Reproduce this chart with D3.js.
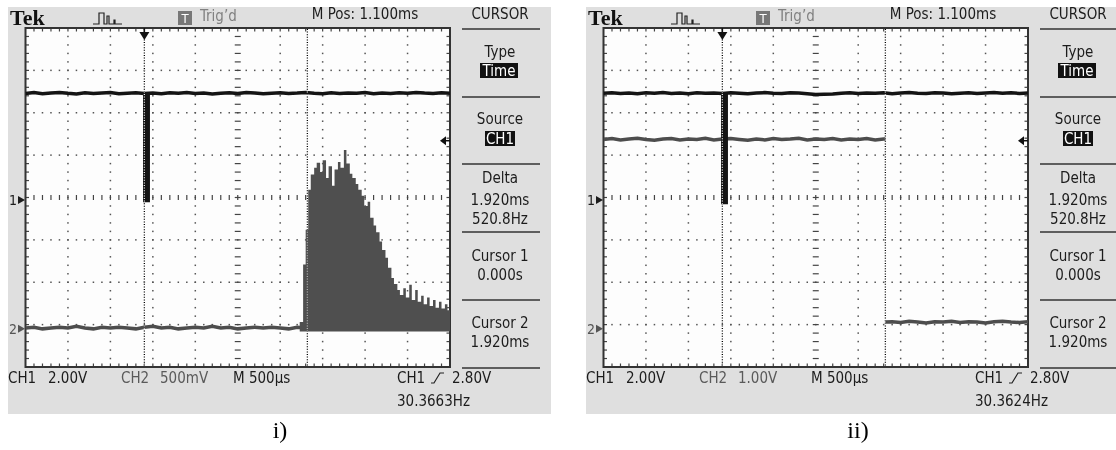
<!DOCTYPE html>
<html>
<head>
<meta charset="utf-8">
<script src="https://cdn.jsdelivr.net/npm/d3@7"></script>
<style>
  body { margin: 0; background: #fff; }
  svg text { font-family: "Liberation Sans Narrow", "DejaVu Sans Condensed", "Arial Narrow", sans-serif; font-size: 15px; fill: #1c1c1c; }
</style>
</head>
<body>
<svg id="chart" width="1116" height="450"></svg>
<script>
// sample times in ms, trigger at 0
const sampleT = [-1.4, -1.3, -1.2, -1.1, -1.0, -0.9, -0.8, -0.7, -0.6, -0.5,
  -0.4, -0.3, -0.2, -0.1, 0, 0.1, 0.2, 0.3, 0.4, 0.5,
  0.6, 0.7, 0.8, 0.9, 1.0, 1.1, 1.2, 1.3, 1.4, 1.5,
  1.6, 1.7, 1.8, 1.9, 2.0, 2.1, 2.2, 2.3, 2.4, 2.5,
  2.6, 2.7, 2.8, 2.9, 3.0, 3.1, 3.2, 3.3, 3.4, 3.5, 3.6]

// CH1 (V) for screen i and ii
const ch1aV = [5.03, 5.07, 5.02, 5.05, 5.08, 5.04, 5.01, 5.06, 5.03, 5.05,
  5.07, 5.02, 5.04, 5.06, 5.03, 5.05, 5.02, 5.06, 5.04, 5.07,
  5.03, 5.05, 5.01, 5.04, 5.06, 5.03, 5.07, 5.05, 5.02, 5.04,
  5.06, 5.03, 5.05, 5.08, 5.04, 5.02, 5.06, 5.03, 5.05, 5.04,
  5.07, 5.02, 5.05, 5.03, 5.06, 5.04, 5.08, 5.05, 5.03, 5.06, 5.04]
const ch1bV = [5.04, 5.06, 5.03, 5.05, 5.02, 5.06, 5.04, 5.07, 5.03, 5.05,
  5.02, 5.06, 5.04, 5.05, 5.03, 5.06, 5.04, 5.02, 5.05, 5.07,
  5.04, 5.03, 5.06, 5.05, 5.02, 4.98, 4.99, 5.00, 5.04, 5.06,
  5.03, 5.05, 5.04, 5.06, 5.02, 5.05, 5.07, 5.04, 5.03, 5.06,
  5.05, 5.02, 5.04, 5.06, 5.03, 5.05, 5.07, 5.04, 5.06, 5.03, 5.05]
// trigger pulse: [t, low, high]
const ch1aDip = [[-0.016, -0.1, 5.04], [0.066, -0.1, 5.04]]
const ch1bDip = [[-0.016, -0.2, 5.04], [0.066, -0.2, 5.04]]

// CH2 screen i: baseline plus burst envelope
const ch2aV = [0.01, 0.02, 0.00, 0.01, 0.02, 0.01, 0.03, 0.01, 0.00, 0.02,
  0.01, 0.02, 0.01, 0.00, 0.02, 0.03, 0.01, 0.02, 0.00, 0.01,
  0.02, 0.01, 0.03, 0.01, 0.02, 0.00, 0.01, 0.02, 0.01, 0.02,
  0.01, 0.00, 0.02, 0.01, 0.02, 0.01, 0.00, 0.02, 0.01, 0.02,
  0.01, 0.02, 0.00, 0.01, 0.02, 0.01, 0.02, 0.00, 0.01, 0.02, 0.01]
const envT = [1.83, 1.87, 1.90, 1.93, 1.96, 2.00, 2.03, 2.07, 2.10, 2.14,
  2.17, 2.21, 2.24, 2.28, 2.31, 2.35, 2.38, 2.42, 2.45, 2.49,
  2.52, 2.56, 2.59, 2.63, 2.66, 2.70, 2.73, 2.77, 2.80, 2.84,
  2.87, 2.91, 2.94, 2.98, 3.01, 3.05, 3.08, 3.12, 3.15, 3.19,
  3.22, 3.26, 3.29, 3.33, 3.36, 3.40, 3.43, 3.47, 3.50, 3.54, 3.57, 3.60]
const envV = [0.08, 0.76, 1.17, 1.64, 1.82, 1.90, 1.96, 1.85, 1.99, 1.78,
  1.92, 1.69, 1.88, 1.97, 1.90, 2.11, 1.95, 1.83, 1.78, 1.71,
  1.64, 1.57, 1.45, 1.50, 1.31, 1.22, 1.14, 1.03, 0.93, 0.84,
  0.72, 0.60, 0.53, 0.46, 0.40, 0.48, 0.37, 0.52, 0.34, 0.46,
  0.32, 0.39, 0.29, 0.37, 0.27, 0.34, 0.25, 0.32, 0.24, 0.29, 0.22, 0.26]

// CH2 screen ii: high until cursor 2, then low (null = break)
const ch2bT = [-1.4, -1.3, -1.2, -1.1, -1.0, -0.9, -0.8, -0.7, -0.6, -0.5,
  -0.4, -0.3, -0.2, -0.1, 0, 0.1, 0.2, 0.3, 0.4, 0.5,
  0.6, 0.7, 0.8, 0.9, 1.0, 1.1, 1.2, 1.3, 1.4, 1.5,
  1.6, 1.7, 1.8, 1.9, 1.92, 1.92, 1.92,
  2.0, 2.1, 2.2, 2.3, 2.4, 2.5, 2.6, 2.7, 2.8, 2.9, 3.0, 3.1, 3.2, 3.3, 3.4, 3.5, 3.6]
const ch2bV = [4.47, 4.49, 4.46, 4.48, 4.50, 4.47, 4.45, 4.48, 4.49, 4.46,
  4.48, 4.47, 4.50, 4.46, 4.48, 4.49, 4.47, 4.45, 4.48, 4.46,
  4.49, 4.47, 4.48, 4.50, 4.46, 4.48, 4.47, 4.49, 4.46, 4.48,
  4.47, 4.49, 4.46, 4.48, 4.48, null, 0.16,
  0.17, 0.15, 0.18, 0.16, 0.14, 0.17, 0.16, 0.18, 0.15, 0.17, 0.16, 0.14, 0.17, 0.18, 0.16, 0.15, 0.17]

const cursorT = [0, 1.920]
const menuTexts = [['CURSOR', 19], ['Type', 57], ['Source', 124], ['Delta', 183], ['1.920ms', 205],
  ['520.8Hz', 224], ['Cursor 1', 261], ['0.000s', 280], ['Cursor 2', 328], ['1.920ms', 347]]
const menuLines = [29, 97, 164, 232, 300, 368]

const panels = [
  { label: 'i)', ch1: ch1aV, dip: ch1aDip, ch2T: sampleT, ch2V: ch2aV, burst: true, ch2VDiv: 0.5, ch2Text: '500mV', freq: '30.3663Hz' },
  { label: 'ii)', ch1: ch1bV, dip: ch1bDip, ch2T: ch2bT, ch2V: ch2bV, burst: false, ch2VDiv: 1.0, ch2Text: '1.00V', freq: '30.3624Hz' }
]

const svg = d3.select('#chart')
const panelDx = [0, 578]
const gx0 = 25.5, gx1 = 450, gy0 = 28, gy1 = 367
const tStart = -1.4, msDiv = 0.5
const ch1VDiv = 2.0, ch1Pos = -0.06, ch2Pos = -3.1

panels.forEach((p, pi) => {
  const g = svg.append('g').attr('transform', `translate(${panelDx[pi]},0)`)

  const xDiv = d3.scaleLinear().domain([0, 10]).range([gx0, gx1])
  const yDiv = d3.scaleLinear().domain([-4, 4]).range([gy1, gy0])
  const x = d3.scaleLinear().domain([tStart, tStart + 10 * msDiv]).range([gx0, gx1])
  const y1 = d3.scaleLinear().domain([(-4 - ch1Pos) * ch1VDiv, (4 - ch1Pos) * ch1VDiv]).range([gy1, gy0])
  const y2 = d3.scaleLinear().domain([(-4 - ch2Pos) * p.ch2VDiv, (4 - ch2Pos) * p.ch2VDiv]).range([gy1, gy0])

  g.append('rect').attr('x', 8).attr('y', 7).attr('width', 543).attr('height', 407).attr('fill', '#dfdfdf')
  g.append('rect').attr('x', gx0).attr('y', gy0).attr('width', gx1 - gx0).attr('height', gy1 - gy0).attr('fill', '#fdfdfd')

  // graticule dots
  const minorX = d3.range(1, 50).map(i => i / 5)
  const minorY = d3.range(-19, 20).map(i => i / 5)
  const dots = []
  ;[1, 2, 3, 4, 6, 7, 8, 9].forEach(d => minorY.forEach(m => dots.push([xDiv(d), yDiv(m)])))
  ;[-3, -2, -1, 1, 2, 3].forEach(d => minorX.forEach(m => dots.push([xDiv(m), yDiv(d)])))
  g.append('g').selectAll('rect').data(dots).join('rect')
    .attr('x', d => d[0] - 0.75).attr('y', d => d[1] - 0.75)
    .attr('width', 1.5).attr('height', 1.5).attr('fill', '#555')

  const ticks = []
  minorX.forEach(m => {
    ticks.push([xDiv(m), yDiv(0) - 2.5, xDiv(m), yDiv(0) + 2.5])
    ticks.push([xDiv(m), gy0, xDiv(m), gy0 + 3.5])
    ticks.push([xDiv(m), gy1 - 3.5, xDiv(m), gy1])
  })
  minorY.forEach(m => {
    ticks.push([xDiv(5) - 3, yDiv(m), xDiv(5) + 3, yDiv(m)])
    ticks.push([gx0, yDiv(m), gx0 + 3.5, yDiv(m)])
    ticks.push([gx1 - 3.5, yDiv(m), gx1, yDiv(m)])
  })
  g.append('g').selectAll('line').data(ticks).join('line')
    .attr('x1', d => d[0]).attr('y1', d => d[1]).attr('x2', d => d[2]).attr('y2', d => d[3])
    .attr('stroke', '#444').attr('stroke-width', 1.2)

  g.append('rect').attr('x', gx0).attr('y', gy0).attr('width', gx1 - gx0).attr('height', gy1 - gy0)
    .attr('fill', 'none').attr('stroke', '#333').attr('stroke-width', 2)

  // traces
  const clipId = 'clip' + pi
  g.append('clipPath').attr('id', clipId).append('rect')
    .attr('x', gx0).attr('y', gy0).attr('width', gx1 - gx0).attr('height', gy1 - gy0)
  const tr = g.append('g').attr('clip-path', `url(#${clipId})`)

  const line2 = d3.line().defined((d, i) => p.ch2V[i] !== null)
    .x((d, i) => x(p.ch2T[i])).y((d, i) => y2(p.ch2V[i]))
  tr.append('path').attr('d', line2(p.ch2V))
    .attr('fill', 'none').attr('stroke', '#4d4d4d').attr('stroke-width', 3.5)

  if (p.burst) {
    const area = d3.area().curve(d3.curveStepAfter)
      .x((d, i) => x(envT[i])).y0(y2(-0.03)).y1(d => y2(d))
    tr.append('path').attr('d', area(envV)).attr('fill', '#4f4f4f')
  }

  const line1 = d3.line().x((d, i) => x(sampleT[i])).y(d => y1(d))
  tr.append('path').attr('d', line1(p.ch1))
    .attr('fill', 'none').attr('stroke', '#141414').attr('stroke-width', 3.5)
  const dipArea = d3.area().x(d => x(d[0])).y0(d => y1(d[2])).y1(d => y1(d[1]))
  tr.append('path').attr('d', dipArea(p.dip)).attr('fill', '#141414')

  // cursors (xor style)
  g.append('g').selectAll('line').data(cursorT).join('line')
    .attr('x1', d => x(d)).attr('x2', d => x(d)).attr('y1', gy0 + 1).attr('y2', gy1 - 1)
    .attr('stroke', '#fff').attr('stroke-width', 1.3).attr('stroke-dasharray', '1,1.6')
    .style('mix-blend-mode', 'difference')

  // trigger position marker
  const tx = x(0)
  g.append('line').attr('x1', tx).attr('x2', tx).attr('y1', gy0).attr('y2', 33).attr('stroke', '#111').attr('stroke-width', 1.5)
  g.append('path').attr('d', `M${tx - 5},32H${tx + 5}L${tx},40Z`).attr('fill', '#111')

  // trigger level arrow
  const ty = y1(2.8)
  g.append('path').attr('d', `M${gx1 - 10},${ty}L${gx1 - 4},${ty - 4.5}V${ty + 4.5}Z`).attr('fill', '#111')
  g.append('line').attr('x1', gx1 - 5).attr('x2', gx1).attr('y1', ty).attr('y2', ty).attr('stroke', '#111').attr('stroke-width', 1.5)

  // ground markers
  ;[['1', y1(0), '#1c1c1c'], ['2', y2(0), '#555']].forEach(([t, yy, c]) => {
    g.append('text').attr('x', 9).attr('y', yy + 5).style('font-size', '14px').style('fill', c).text(t)
    g.append('path').attr('d', `M18,${yy - 4}V${yy + 4}L25,${yy}Z`).attr('fill', c)
  })

  // header
  g.append('text').attr('x', 10).attr('y', 25)
    .style('font-family', '"Liberation Serif", serif').style('font-weight', 'bold').style('font-size', '22px').style('fill', '#111')
    .text('Tek')
  g.append('path').attr('d', 'M93,24H99V13H104V24H107V16H109V24H114V20H115V24H122')
    .attr('fill', 'none').attr('stroke', '#222').attr('stroke-width', 1.2)
  g.append('rect').attr('x', 178).attr('y', 11).attr('width', 14).attr('height', 14).attr('fill', '#777')
  g.append('text').attr('x', 185).attr('y', 23).attr('text-anchor', 'middle').style('fill', '#fff').style('font-size', '13px').text('T')
  g.append('text').attr('x', 200).attr('y', 21).style('fill', '#808080').text('Trig\u2019d')
  g.append('text').attr('x', 365).attr('y', 19).attr('text-anchor', 'middle').text('M Pos: 1.100ms')

  // side menu
  g.append('g').selectAll('text').data(menuTexts).join('text')
    .attr('x', 500).attr('y', d => d[1]).attr('text-anchor', 'middle').text(d => d[0])
  g.append('g').selectAll('line').data(menuLines).join('line')
    .attr('x1', 462).attr('x2', 540).attr('y1', d => d).attr('y2', d => d)
    .attr('stroke', '#333').attr('stroke-width', 1.3)
  ;[['Time', 480, 63, 38, 76], ['CH1', 485, 131, 30, 144]].forEach(([t, bx, by, bw, bl]) => {
    g.append('rect').attr('x', bx).attr('y', by).attr('width', bw).attr('height', 15).attr('fill', '#111')
    g.append('text').attr('x', bx + bw / 2).attr('y', bl).attr('text-anchor', 'middle').style('fill', '#fff').text(t)
  })

  // bottom readouts
  g.append('text').attr('x', 8).attr('y', 383).text('CH1')
  g.append('text').attr('x', 48).attr('y', 383).text('2.00V')
  g.append('text').attr('x', 121).attr('y', 383).style('fill', '#5a5a5a').text('CH2')
  g.append('text').attr('x', 160).attr('y', 383).style('fill', '#5a5a5a').text(p.ch2Text)
  g.append('text').attr('x', 233).attr('y', 383).text('M 500\u00b5s')
  g.append('text').attr('x', 397).attr('y', 383).text('CH1')
  g.append('path').attr('d', 'M431,383H434L440,373H444').attr('fill', 'none').attr('stroke', '#222').attr('stroke-width', 1.2)
  g.append('text').attr('x', 452).attr('y', 383).text('2.80V')
  g.append('text').attr('x', 397).attr('y', 406).text(p.freq)

  g.append('text').attr('x', 280).attr('y', 438).attr('text-anchor', 'middle')
    .style('font-family', '"Liberation Serif", serif').style('font-size', '24px').style('fill', '#000')
    .text(p.label)
})
</script>
</body>
</html>
